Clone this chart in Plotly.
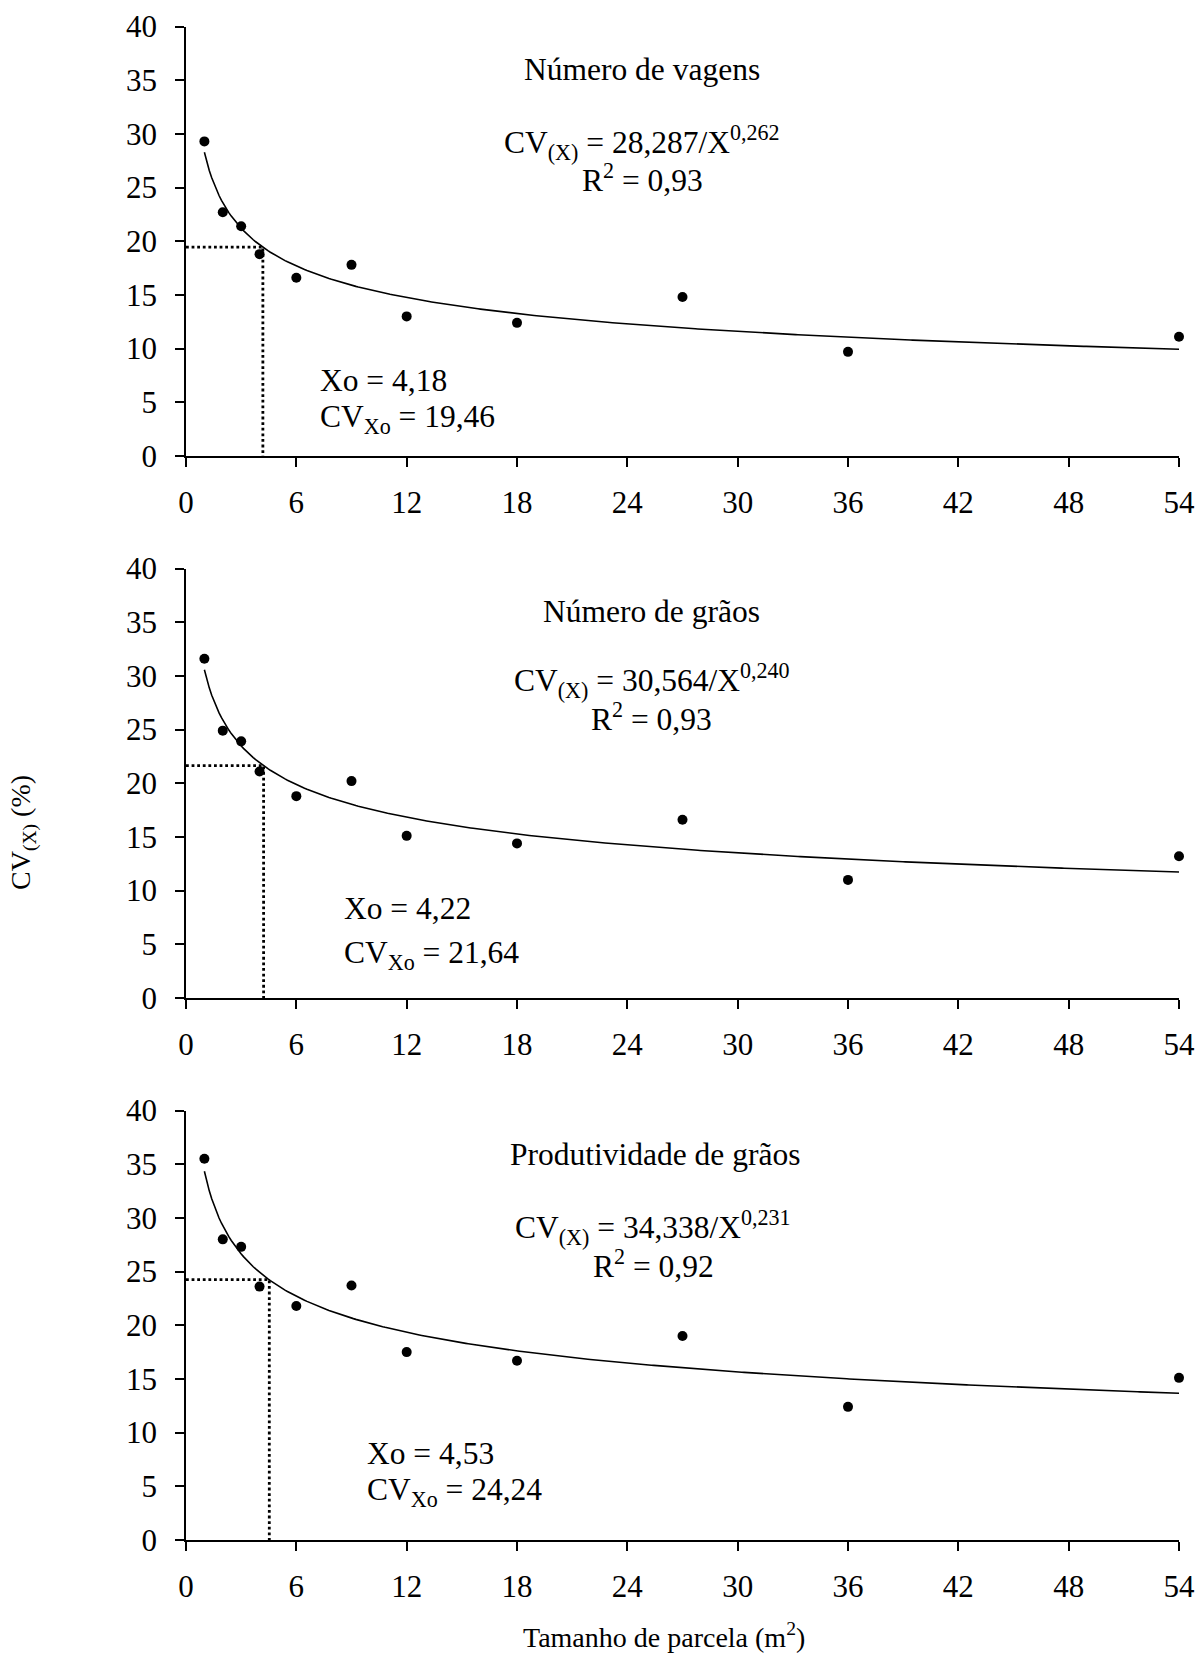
import numpy as np
import plotly.graph_objects as go

# ---------------- data ----------------
plot_sizes = [1, 2, 3, 4, 6, 9, 12, 18, 27, 36, 54]
cv_vagens = [29.3, 22.7, 21.4, 18.8, 16.6, 17.8, 13.0, 12.4, 14.8, 9.7, 11.1]
cv_graos = [31.6, 24.9, 23.9, 21.1, 18.8, 20.2, 15.1, 14.4, 16.6, 11.0, 13.2]
cv_prod = [35.5, 28.0, 27.3, 23.6, 21.8, 23.7, 17.5, 16.7, 19.0, 12.4, 15.1]

panel_titles = ["Número de vagens", "Número de grãos", "Produtividade de grãos"]
coef_a = [28.287, 30.564, 34.338]
coef_b = [0.262, 0.240, 0.231]
r_squared = [0.93, 0.93, 0.92]
xo_values = [4.18, 4.22, 4.53]
cvxo_values = [19.46, 21.64, 24.24]

x_ticks = [0, 6, 12, 18, 24, 30, 36, 42, 48, 54]
y_ticks = [0, 5, 10, 15, 20, 25, 30, 35, 40]

x_title = "Tamanho de parcela (m<sup>2</sup>)"
y_title = "CV<sub>(X)</sub> (%)"

series = [cv_vagens, cv_graos, cv_prod]

# ---------------- layout constants ----------------
W, H = 1200, 1654
FONT = "Liberation Serif, Times New Roman, serif"
x_dom = [186 / W, 1179 / W]
panel_px = [(26.5, 456.0), (568.5, 998.0), (1110.5, 1540.0)]  # (top, bottom) pixels

# annotation placements (data units) per panel
title_pos = [(24.8, 36.0), (25.3, 36.0), (25.5, 35.9)]
eq_pos = [(24.8, 29.2), (25.35, 29.6), (25.4, 29.1)]
r2_pos = [(24.8, 25.9), (25.3, 26.2), (25.4, 25.7)]
xo_pos = [(7.2, 7.0), (8.5, 8.3), (9.75, 8.1)]
cvxo_pos = [(7.2, 3.45), (8.5, 4.0), (9.75, 4.5)]


def fmt(v, d):
    return f"{v:.{d}f}".replace(".", ",")


fig = go.Figure()
annotations = []
layout_axes = {}

for i in range(3):
    xa = "x" if i == 0 else f"x{i+1}"
    ya = "y" if i == 0 else f"y{i+1}"
    a, b = coef_a[i], coef_b[i]

    # fitted power curve defined by the printed equation
    cx = np.linspace(plot_sizes[0], plot_sizes[-1], 400)
    cy = a / cx ** b
    fig.add_trace(go.Scatter(x=cx, y=cy, mode="lines", xaxis=xa, yaxis=ya,
                             line=dict(color="black", width=1.6),
                             showlegend=False, hoverinfo="skip", cliponaxis=False))

    # dotted guides at Xo / CVXo
    fig.add_trace(go.Scatter(x=[0, xo_values[i], xo_values[i]],
                             y=[cvxo_values[i], cvxo_values[i], 0],
                             mode="lines", xaxis=xa, yaxis=ya,
                             line=dict(color="black", width=2.8, dash="2.8px,2.8px"),
                             showlegend=False, hoverinfo="skip", cliponaxis=False))

    # observed points
    fig.add_trace(go.Scatter(x=plot_sizes, y=series[i], mode="markers",
                             xaxis=xa, yaxis=ya,
                             marker=dict(color="black", size=10, symbol="circle"),
                             showlegend=False, cliponaxis=False))

    top, bot = panel_px[i]
    y_dom = [1 - bot / H, 1 - top / H]
    axis_common = dict(showline=True, linecolor="black", linewidth=1.5,
                       ticks="outside", ticklen=9, tickwidth=1.5, tickcolor="black",
                       showgrid=False, zeroline=False, automargin=False,
                       tickfont=dict(family=FONT, size=31, color="black"))
    layout_axes["xaxis" if i == 0 else f"xaxis{i+1}"] = dict(
        domain=x_dom, range=[0, 54], tickmode="array", tickvals=x_ticks,
        ticktext=[str(t) for t in x_ticks], anchor=ya, ticklabelstandoff=9,
        **axis_common)
    layout_axes["yaxis" if i == 0 else f"yaxis{i+1}"] = dict(
        domain=y_dom, range=[0, 40], tickmode="array", tickvals=y_ticks,
        ticktext=[str(t) for t in y_ticks], anchor=xa, ticklabelstandoff=12,
        **axis_common)

    afont = dict(family=FONT, size=31.5, color="black")
    annotations.append(dict(x=title_pos[i][0], y=title_pos[i][1], xref=xa, yref=ya,
                            text=panel_titles[i], showarrow=False, font=afont,
                            xanchor="center", yanchor="middle"))
    annotations.append(dict(x=eq_pos[i][0], y=eq_pos[i][1], xref=xa, yref=ya,
                            text=f"CV<sub>(X)</sub> = {fmt(a, 3)}/X<sup>{fmt(b, 3)}</sup>",
                            showarrow=False, font=afont, xanchor="center", yanchor="middle"))
    annotations.append(dict(x=r2_pos[i][0], y=r2_pos[i][1], xref=xa, yref=ya,
                            text=f"R<sup>2</sup> = {fmt(r_squared[i], 2)}",
                            showarrow=False, font=afont, xanchor="center", yanchor="middle"))
    annotations.append(dict(x=xo_pos[i][0], y=xo_pos[i][1], xref=xa, yref=ya,
                            text=f"Xo = {fmt(xo_values[i], 2)}",
                            showarrow=False, font=afont, xanchor="left", yanchor="middle"))
    annotations.append(dict(x=cvxo_pos[i][0], y=cvxo_pos[i][1], xref=xa, yref=ya,
                            text=f"CV<sub>Xo</sub> = {fmt(cvxo_values[i], 2)}",
                            showarrow=False, font=afont, xanchor="left", yanchor="middle"))

# axis titles
annotations.append(dict(x=664 / W, y=1 - 1635 / H, xref="paper", yref="paper",
                        text=x_title, showarrow=False,
                        font=dict(family=FONT, size=28, color="black"),
                        xanchor="center", yanchor="middle"))
annotations.append(dict(x=23 / W, y=1 - 833 / H, xref="paper", yref="paper",
                        text=y_title, showarrow=False, textangle=-90,
                        font=dict(family=FONT, size=28, color="black"),
                        xanchor="center", yanchor="middle"))

fig.update_layout(width=W, height=H, margin=dict(l=0, r=0, t=0, b=0),
                  paper_bgcolor="white", plot_bgcolor="white",
                  annotations=annotations, **layout_axes)

fig.write_html("out.html",
               config={"displayModeBar": False},
               post_script="document.body.style.margin='0px';document.body.style.overflow='hidden';")
